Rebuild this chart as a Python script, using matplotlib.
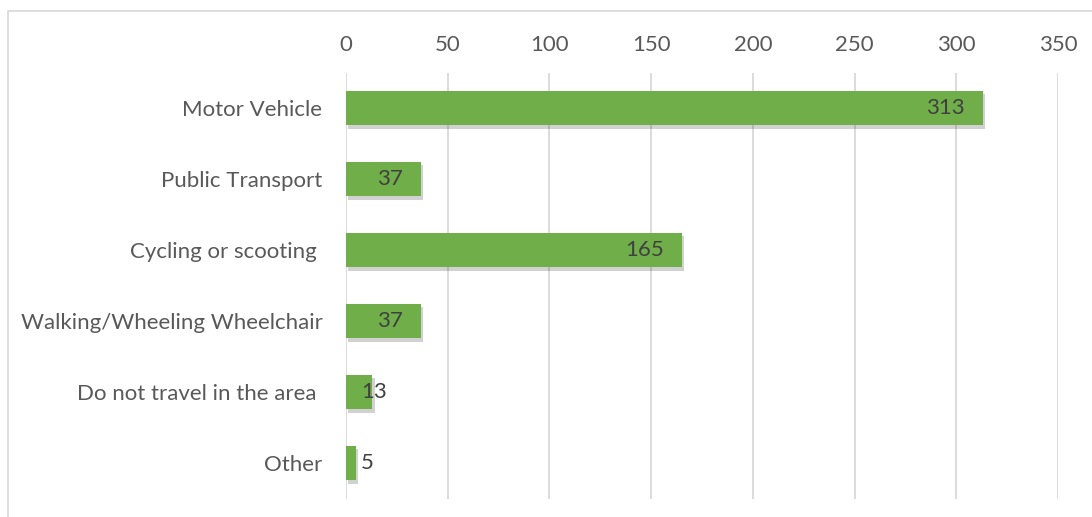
import matplotlib
matplotlib.use("Agg")
import matplotlib.pyplot as plt
import matplotlib.patheffects as pe
from matplotlib.patches import Rectangle

categories = ["Motor Vehicle", "Public Transport", "Cycling or scooting ",
              "Walking/Wheeling Wheelchair", "Do not travel in the area ", "Other"]
values = [313, 37, 165, 37, 13, 5]
xticks = [0, 50, 100, 150, 200, 250, 300, 350]

plt.rcParams['font.family'] = ['Lato', 'DejaVu Sans']
TXT = '#595959'
GRID = '#D9D9D9'
BAR = '#6FAE48'
FS = 16

W, H = 1092, 517
fig = plt.figure(figsize=(W/100, H/100), dpi=100)
fig.patches.append(Rectangle((8/W, -0.2), 1.2, 1.2 - 11/H, transform=fig.transFigure,
                             fill=False, edgecolor=GRID, linewidth=1.2))
ax = fig.add_axes([346/W, 1 - 498.5/H, (1058-346)/W, (498.5-72.5)/H])

y = list(range(len(categories)))
bars = ax.barh(y, values, height=0.48, color=BAR, zorder=3,
               path_effects=[pe.SimplePatchShadow(offset=(1.5, -2.5), shadow_rgbFace='#000000', alpha=0.18),
                             pe.Normal()])
ax.set_ylim(len(categories) - 0.5, -0.5)
ax.set_xlim(0, 350)
ax.set_xticks(xticks)
ax.set_yticks(y)
ax.set_yticklabels(categories)
ax.xaxis.tick_top()
ax.tick_params(axis='x', length=0, pad=12.5, labelsize=FS, labelcolor=TXT)
ax.tick_params(axis='y', length=0, pad=17, labelsize=FS, labelcolor=TXT)
for s in ax.spines.values():
    s.set_visible(False)
ax.grid(axis='x', color=GRID, linewidth=1.3, zorder=0)
ax.set_axisbelow(True)

fig.canvas.draw()
r = fig.canvas.get_renderer()
for yi, v in zip(y, values):
    t = ax.annotate(str(v), (v, yi), xytext=(-18*0.72, 0), textcoords='offset points',
                    ha='right', va='center', fontsize=FS, color='#404040', zorder=5)
    fig.canvas.draw()
    bb = t.get_window_extent(r)
    x0 = ax.transData.transform((0, 0))[0]
    if bb.x0 < x0 + 15:
        t.remove()
        ax.annotate(str(v), (0, yi), xytext=(15*0.72, 0), textcoords='offset points',
                    ha='left', va='center', fontsize=FS, color='#404040', zorder=5)

fig.savefig("out.png", dpi=100)
